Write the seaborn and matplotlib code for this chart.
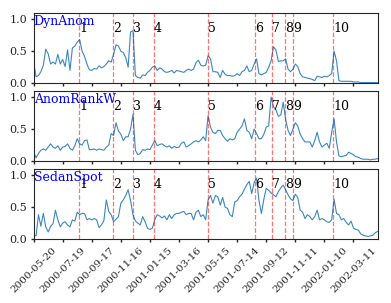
import numpy as np
import pandas as pd
import matplotlib
matplotlib.use("Agg")
import matplotlib.pyplot as plt
import matplotlib.dates as mdates
import seaborn as sns

# one reading every 5 days, starting 2000-05-20
start_date = "2000-05-20"
step_days = 5

dyn_anom = [
    0.33, 0.10, 0.12, 0.18, 0.28, 0.53, 0.46, 0.30, 0.33, 0.30,
    0.45, 0.30, 0.37, 0.26, 0.52, 0.20, 0.55, 0.58, 0.64, 0.68,
    0.50, 0.42, 0.30, 0.21, 0.20, 0.23, 0.22, 0.27, 0.24, 0.26,
    0.30, 0.35, 0.33, 0.45, 0.60, 0.58, 0.50, 0.48, 0.40, 0.25,
    0.80, 0.82, 0.12, 0.09, 0.08, 0.13, 0.12, 0.17, 0.20, 0.25,
    0.27, 0.20, 0.24, 0.22, 0.18, 0.17, 0.18, 0.20, 0.16, 0.20,
    0.19, 0.18, 0.17, 0.20, 0.22, 0.20, 0.22, 0.32, 0.36, 0.28,
    0.27, 0.28, 0.43, 0.38, 0.18, 0.18, 0.17, 0.09, 0.20, 0.14,
    0.12, 0.12, 0.11, 0.12, 0.15, 0.12, 0.18, 0.20, 0.27, 0.18,
    0.20, 0.30, 0.38, 0.15, 0.13, 0.15, 0.17, 0.25, 0.35, 0.57,
    0.52, 0.34, 0.35, 0.35, 0.38, 0.22, 0.18, 0.22, 0.30, 0.26,
    0.15, 0.10, 0.09, 0.08, 0.07, 0.06, 0.04, 0.11, 0.10, 0.09,
    0.11, 0.10, 0.12, 0.15, 0.50, 0.35, 0.04, 0.03, 0.03, 0.03,
    0.03, 0.03, 0.02, 0.02, 0.02, 0.01, 0.01, 0.01, 0.01, 0.01,
    0.01, 0.01, 0.01,
]

anom_rank_w = [
    0.14, 0.05, 0.12, 0.17, 0.19, 0.17, 0.22, 0.27, 0.22, 0.20,
    0.24, 0.17, 0.22, 0.23, 0.27, 0.20, 0.17, 0.24, 0.35, 0.27,
    0.25, 0.32, 0.33, 0.18, 0.18, 0.19, 0.17, 0.19, 0.18, 0.17,
    0.22, 0.25, 0.43, 0.40, 0.60, 0.47, 0.42, 0.32, 0.38, 0.38,
    0.50, 0.73, 0.17, 0.10, 0.12, 0.18, 0.17, 0.19, 0.18, 0.25,
    0.32, 0.24, 0.26, 0.27, 0.24, 0.22, 0.24, 0.20, 0.23, 0.21,
    0.22, 0.28, 0.30, 0.22, 0.24, 0.27, 0.30, 0.32, 0.30, 0.33,
    0.38, 0.32, 0.71, 0.53, 0.45, 0.43, 0.48, 0.48, 0.40, 0.35,
    0.31, 0.35, 0.33, 0.35, 0.45, 0.50, 0.55, 0.66, 0.48, 0.45,
    0.35, 0.50, 0.43, 0.35, 0.35, 0.42, 0.53, 0.55, 1.00, 0.85,
    0.80, 0.70, 0.72, 0.92, 0.65, 0.48, 0.40, 0.50, 0.60, 0.55,
    0.42, 0.35, 0.30, 0.30, 0.30, 0.22, 0.32, 0.45, 0.30, 0.22,
    0.25, 0.28, 0.20, 0.45, 0.66, 0.30, 0.08, 0.07, 0.08, 0.09,
    0.14, 0.12, 0.10, 0.07, 0.06, 0.04, 0.03, 0.03, 0.03, 0.02,
    0.03, 0.03, 0.04,
]

sedan_spot = [
    0.06, 0.05, 0.38, 0.20, 0.40, 0.19, 0.11, 0.20, 0.24, 0.45,
    0.30, 0.19, 0.25, 0.27, 0.22, 0.19, 0.30, 0.28, 0.42, 0.38,
    0.40, 0.40, 0.30, 0.32, 0.30, 0.32, 0.30, 0.18, 0.22, 0.29,
    0.61, 0.43, 0.38, 0.27, 0.31, 0.35, 0.56, 0.61, 0.68, 0.77,
    0.60, 0.38, 0.28, 0.25, 0.22, 0.35, 0.27, 0.17, 0.15, 0.17,
    0.30, 0.38, 0.36, 0.33, 0.36, 0.30, 0.38, 0.32, 0.38, 0.40,
    0.40, 0.42, 0.43, 0.38, 0.40, 0.40, 0.30, 0.42, 0.45, 0.35,
    0.38, 0.30, 0.61, 0.68, 0.56, 0.68, 0.66, 0.53, 0.65, 0.50,
    0.48, 0.38, 0.35, 0.58, 0.60, 0.66, 0.70, 0.78, 0.85, 0.90,
    0.71, 0.88, 0.95, 0.60, 0.40, 0.62, 0.79, 0.76, 0.72, 0.69,
    0.66, 0.74, 0.80, 0.84, 0.77, 0.69, 0.63, 0.60, 0.70, 0.65,
    0.45, 0.42, 0.32, 0.38, 0.35, 0.30, 0.35, 0.45, 0.30, 0.32,
    0.30, 0.27, 0.26, 0.30, 0.62, 0.40, 0.38, 0.30, 0.32, 0.26,
    0.22, 0.28, 0.17, 0.15, 0.14, 0.08, 0.06, 0.05, 0.04, 0.05,
    0.06, 0.10, 0.12,
]

method_names = ["DynAnom", "AnomRankW", "SedanSpot"]

event_dates = ["2000-08-22", "2000-10-31", "2000-12-11", "2001-01-23",
               "2001-05-15", "2001-08-20", "2001-09-24", "2001-10-20",
               "2001-11-06", "2002-01-28"]
event_labels = ["1", "2", "3", "4", "5", "6", "7", "8", "9", "10"]

tick_dates = pd.date_range("2000-05-20", periods=12, freq="60D")


sns.set_style("ticks")
plt.rcParams["font.family"] = ["DejaVu Serif"]

dates = pd.date_range(start_date, periods=len(dyn_anom), freq=f"{step_days}D")
series = [dyn_anom, anom_rank_w, sedan_spot]

fig, axes = plt.subplots(3, 1, figsize=(3.91, 3.03), dpi=100, sharex=True)
fig.subplots_adjust(left=0.086, right=0.966, top=0.958, bottom=0.211, hspace=0.105)

for ax, name, vals in zip(axes, method_names, series):
    sns.lineplot(x=dates, y=vals, ax=ax, color="#3a87c2", lw=0.8)
    for ed, lab in zip(event_dates, event_labels):
        t = pd.Timestamp(ed)
        ax.axvline(t, color="red", ls="--", lw=0.9, alpha=0.55)
        ax.text(t, 0.8, lab, fontsize=9, va="baseline", ha="left", color="black")
    ax.text(0.0, 0.83, name, transform=ax.transAxes, color="blue",
            fontsize=9, va="baseline", ha="left")
    ax.set_ylim(0, 1.1)
    ax.set_yticks([0.0, 0.5, 1.0])
    ax.set_xlim(dates[0], dates[-1])
    ax.set_xlabel("")
    ax.set_ylabel("")
    ax.tick_params(labelsize=8, length=2.5, width=1.0, pad=2)

axes[-1].set_xticks(tick_dates)
axes[-1].xaxis.set_major_formatter(mdates.DateFormatter("%Y-%m-%d"))
plt.setp(axes[-1].get_xticklabels(), rotation=45, fontsize=7.5)

plt.savefig("out.png", dpi=100)
plt.close()
